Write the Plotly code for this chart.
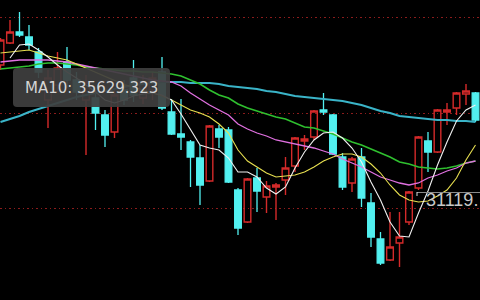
import plotly.graph_objects as go

# candle index (-1 is the partly visible one at the left edge)
idx = list(range(-1, 50))

open_ = [36453, 37377, 37839, 37629, 36999, 34983, 35613, 36579, 35823, 34983,
         35067, 34353, 33639, 35403, 35907, 35067, 35403, 36159, 34479, 33555,
         33219, 32547, 31581, 33765, 33723, 31203, 29859, 31707, 30909, 31329,
         31623, 32211, 33261, 33429, 34563, 34353, 32589, 31497, 32589, 30657,
         29145, 28263, 28977, 29859, 31287, 33261, 32799, 34479, 34647, 35235,
         35277]
high_ = [37587, 38343, 38679, 38133, 37167, 36243, 36999, 37209, 36159, 36033,
         35403, 34563, 35403, 35823, 36663, 36033, 36159, 36789, 35025, 35025,
         33303, 33093, 33933, 33933, 33849, 31287, 31707, 32127, 31581, 31497,
         32589, 33429, 33513, 34563, 35277, 34395, 32757, 32589, 32967, 31077,
         29439, 30279, 30279, 31161, 33471, 33639, 34605, 34857, 35319, 35655,
         35319]
low_ = [36243, 37335, 37629, 37083, 35907, 33807, 35319, 35487, 34983, 32673,
        33723, 33009, 33387, 34773, 34899, 34815, 34983, 34563, 33513, 32883,
        31329, 30573, 31539, 32967, 31497, 29313, 29817, 30279, 30237, 29943,
        30993, 31959, 32883, 33303, 34353, 32673, 31203, 31119, 30489, 28809,
        28053, 28221, 27969, 29733, 31203, 31959, 32757, 33933, 34353, 34773,
        34059]
close_ = [37503, 37839, 37713, 37293, 36159, 35907, 36327, 35823, 35319, 35739,
          34437, 33513, 35193, 34983, 35193, 35739, 35907, 34647, 33555, 33429,
          32589, 31413, 33891, 33429, 31539, 29607, 31665, 31161, 31371, 31413,
          32127, 33387, 33345, 34521, 34479, 32715, 31329, 32505, 30867, 29229,
          28137, 28809, 29229, 31119, 33429, 32799, 34563, 34563, 35277, 35361,
          34143]

ma5 = [None, 36747, 37293, 37335, 37083, 36789, 36453, 36159, 35907, 35613,
       35319, 34983, 34857, 34983, 35151, 35235, 35277, 35193, 34983, 34395,
       33723, 33093, 32967, 32883, 32547, 31959, 31959, 31749, 31287, 31035,
       31329, 32127, 32799, 33303, 33597, 33639, 33387, 32967, 32379, 31539,
       30783, 29859, 29271, 29229, 30237, 31161, 32253, 33219, 34101, 34563,
       34773]
ma10 = [36957, 36999, 37041, 37083, 36957, 36831, 36747, 36663, 36495, 36327,
        36159, 35991, 35823, 35629, 35529, 35403, 35277, 35151, 34983, 34773,
        34563, 34437, 34269, 33975, 33597, 32883, 32421, 32169, 31917, 31749,
        31791, 31833, 31959, 32169, 32421, 32589, 32715, 32715, 32589, 32295,
        31917, 31413, 30993, 30783, 30699, 30741, 30951, 31203, 31707, 32463,
        33093]
ma20 = [36579, 36621, 36663, 36663, 36663, 36663, 36621, 36579, 36495, 36411,
        36327, 36243, 36159, 36075, 35991, 35907, 35823, 35781, 35739, 35571,
        35277, 35025, 34773, 34563, 34353, 33975, 33765, 33597, 33471, 33303,
        33219, 33135, 33051, 32967, 32841, 32715, 32505, 32337, 32169, 31959,
        31749, 31623, 31497, 31413, 31497, 31707, 31833, 32001, 32127, 32337,
        32421]
ma30 = [36285, 36327, 36369, 36411, 36495, 36537, 36537, 36495, 36453, 36369,
        36327, 36285, 36243, 36201, 36201, 36159, 36159, 36117, 36075, 35991,
        35823, 35655, 35403, 35193, 35067, 34815, 34647, 34521, 34395, 34269,
        34185, 34017, 33849, 33807, 33681, 33555, 33387, 33219, 33093, 32925,
        32757, 32589, 32379, 32295, 32169, 32127, 32085, 32127, 32211, 32337,
        32421]
ma60 = [34059, 34185, 34311, 34479, 34605, 34731, 34857, 34983, 35109, 35193,
        35277, 35361, 35445, 35529, 35613, 35655, 35697, 35739, 35739, 35739,
        35697, 35697, 35697, 35655, 35571, 35529, 35487, 35445, 35361, 35319,
        35235, 35151, 35109, 35067, 35025, 34983, 34941, 34857, 34773, 34647,
        34521, 34437, 34311, 34269, 34227, 34185, 34143, 34143, 34101, 34101,
        34059]

grid_vals = [30430, 34430, 38430]
tooltip_text = "MA10: 35629.323"
cross_text = "31119."

fig = go.Figure()
fig.add_trace(go.Candlestick(
    x=idx, open=open_, high=high_, low=low_, close=close_,
    increasing=dict(line=dict(color="#d42a2a", width=1.4), fillcolor="rgba(0,0,0,0)"),
    decreasing=dict(line=dict(color="#52f0f0", width=1.3), fillcolor="#52f0f0"),
    whiskerwidth=0, hoverinfo="skip", showlegend=False,
))

lines = [
    (ma60, "#3ab4c8", 2.0),
    (ma30, "#2fc02f", 1.6),
    (ma20, "#e070e0", 1.3),
    (ma10, "#e8e050", 1.1),
    (ma5, "#f0f0f0", 1.1),
]
for vals, col, w in lines:
    fig.add_trace(go.Scatter(x=idx, y=vals, mode="lines",
                             line=dict(color=col, width=w),
                             hoverinfo="skip", showlegend=False))

# tooltip box (rounded rectangle in paper coordinates)
x0, x1, y0, y1 = 13/480, 170/480, 1-107/300, 1-68/300
rx, ry = 4/480, 4/300
path = (f"M {x0+rx},{y0} L {x1-rx},{y0} Q {x1},{y0} {x1},{y0+ry} "
        f"L {x1},{y1-ry} Q {x1},{y1} {x1-rx},{y1} L {x0+rx},{y1} "
        f"Q {x0},{y1} {x0},{y1-ry} L {x0},{y0+ry} Q {x0},{y0} {x0+rx},{y0} Z")
fig.add_shape(type="path", path=path, xref="paper", yref="paper",
              fillcolor="rgba(62,62,62,0.93)", line=dict(width=0), layer="above")
fig.add_annotation(x=23/480, y=1-88/300, xref="paper", yref="paper",
                   text=tooltip_text, showarrow=False, xanchor="left", yanchor="middle",
                   font=dict(family="DejaVu Sans", size=15, color="#d4d4d4"))

# crosshair label at right
fig.add_shape(type="line", x0=417/480, x1=1, y0=1-192.5/300, y1=1-192.5/300,
              xref="paper", yref="paper", line=dict(color="#8a8a8a", width=1), layer="above")
fig.add_shape(type="line", x0=417/480, x1=417/480, y0=1-192/300, y1=1-196/300,
              xref="paper", yref="paper", line=dict(color="#e0e0e0", width=1), layer="above")
fig.add_annotation(x=424/480, y=1-199.5/300, xref="paper", yref="paper",
                   text=cross_text, showarrow=False, xanchor="left", yanchor="middle",
                   font=dict(family="Liberation Sans Narrow, Arial Narrow, Liberation Sans", size=18, color="#c8c8c8"))

fig.update_layout(
    width=480, height=300,
    margin=dict(l=0, r=0, t=0, b=0),
    paper_bgcolor="black", plot_bgcolor="black",
    showlegend=False,
    boxgap=0.3, boxgroupgap=0,
    xaxis=dict(range=[-1.0526, 49.474], visible=False, rangeslider=dict(visible=False),
               showgrid=False, zeroline=False),
    yaxis=dict(range=[26583, 39183], showticklabels=False, ticks="",
               tickvals=grid_vals, showgrid=True, gridcolor="#8c1c1c",
               griddash="1.5px,3px", gridwidth=1, zeroline=False, showline=False),
)
fig.write_html("out.html")
